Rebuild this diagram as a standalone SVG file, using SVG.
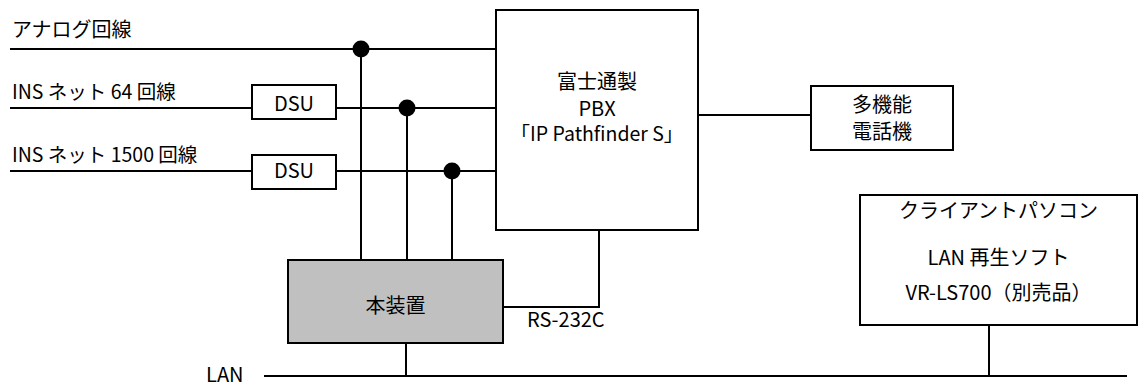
<svg xmlns="http://www.w3.org/2000/svg" width="1138" height="390" viewBox="0 0 1138 390">
<style>
text{font-family:"Noto Sans CJK JP","Liberation Sans",sans-serif;font-size:20px;fill:#000}
.c{text-anchor:middle}
.box{fill:#fff;stroke:#000;stroke-width:2}
.gray{fill:#c0c0c0;stroke:#000;stroke-width:2}
.ln{fill:none;stroke:#000;stroke-width:2}
.dot{fill:#000}
</style>
<rect width="1138" height="390" fill="#fff"/>
<g id="connectors">
<path class="ln" d="M10 49H496M10 108H252M336 108H496M10 171H252M336 171H496"/>
<path class="ln" d="M361 49V260M407 108V260M452 171V260"/>
<circle class="dot" cx="361" cy="49" r="8.5"/>
<circle class="dot" cx="407" cy="108" r="8.5"/>
<circle class="dot" cx="452" cy="171" r="8.5"/>
<path class="ln" d="M698 115H811"/>
<path class="ln" d="M599 230V307H503"/>
<path class="ln" d="M406 343V376M264 376H1127M989 325V376"/>
</g>
<g id="labels">
<text x="12" y="37">アナログ回線</text>
<text x="12" y="99" style="font-size:19.5px">INS ネット 64 回線</text>
<text x="12" y="162" style="font-size:19.5px">INS ネット 1500 回線</text>
<text x="527" y="327">RS-232C</text>
<text x="206" y="382">LAN</text>
</g>
<g id="dsu1">
<rect class="box" x="252" y="85" width="84" height="34"/>
<text class="c" x="294" y="110.5">DSU</text>
</g>
<g id="dsu2">
<rect class="box" x="252" y="155" width="84" height="34"/>
<text class="c" x="294" y="178">DSU</text>
</g>
<g id="pbx">
<rect class="box" x="496" y="10" width="202" height="220"/>
<text class="c" x="597" y="89">富士通製</text>
<text class="c" x="597" y="116">PBX</text>
<text class="c" x="597" y="141" style="font-size:19.5px">「IP Pathfinder S」</text>
</g>
<g id="phone">
<rect class="box" x="811" y="86" width="142" height="64"/>
<text class="c" x="882" y="112">多機能</text>
<text class="c" x="882" y="138.5">電話機</text>
</g>
<g id="client">
<rect class="box" x="860" y="195" width="277" height="130"/>
<text class="c" x="998.5" y="218">クライアントパソコン</text>
<text class="c" x="998.5" y="265">LAN 再生ソフト</text>
<text class="c" x="998.5" y="300">VR-LS700（別売品）</text>
</g>
<g id="device">
<rect class="gray" x="288" y="260" width="215" height="83"/>
<text class="c" x="395.5" y="313">本装置</text>
</g>
</svg>
